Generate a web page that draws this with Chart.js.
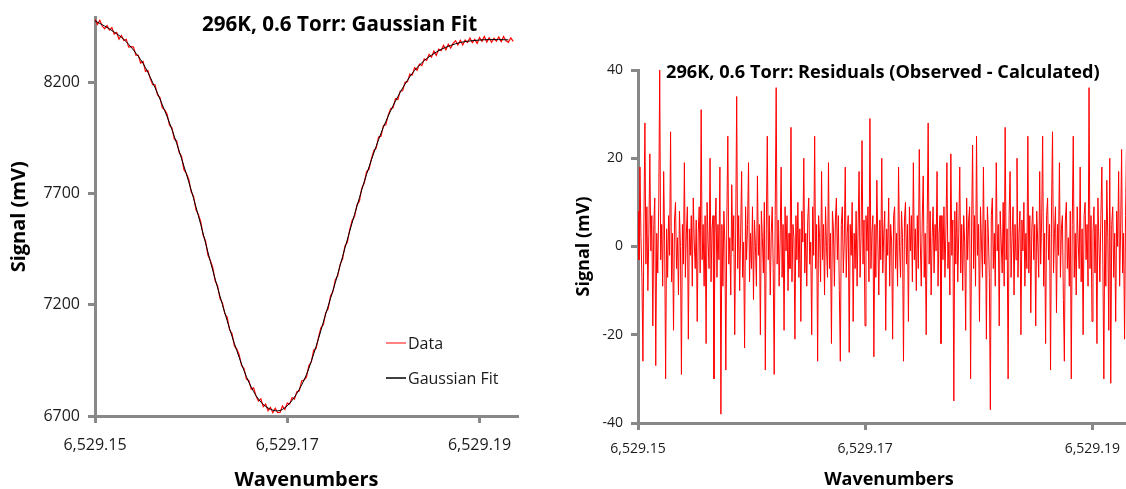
<!DOCTYPE html>
<html>
<head>
<meta charset="utf-8">
<title>296K, 0.6 Torr</title>
<script src="https://cdn.jsdelivr.net/npm/chart.js@4.4.0/dist/chart.umd.min.js"></script>
<style>
  html, body { margin: 0; padding: 0; background: #fff; overflow: hidden; }
  body { width: 1126px; height: 489px; position: relative; }
  #fit { position: absolute; left: 0; top: 0; }
  #resid { position: absolute; left: 560px; top: 0; }
</style>
</head>
<body>
<canvas id="fit" width="560" height="489"></canvas>
<canvas id="resid" width="600" height="489"></canvas>
<script>
// scan grid (wavenumbers), uniform steps from the start of the scan
var scanStart = 6529.15;
var dataStep = 0.00025;
var fitStep = 0.001;
var residStep = 0.0000869;

// observed signal (mV)
var signalData = [
	8485, 8461, 8480, 8454, 8442, 8456, 8436, 8447, 8418, 8425,
	8395, 8412, 8389, 8394, 8359, 8361, 8360, 8323, 8322, 8288,
	8295, 8250, 8254, 8218, 8190, 8190, 8144, 8133, 8087, 8077,
	8057, 8008, 7996, 7945, 7938, 7885, 7868, 7808, 7792, 7765,
	7709, 7689, 7627, 7606, 7574, 7513, 7487, 7423, 7400, 7368,
	7307, 7286, 7228, 7210, 7161, 7144, 7087, 7071, 7015, 7001,
	6975, 6926, 6914, 6866, 6860, 6821, 6827, 6790, 6767, 6777,
	6742, 6753, 6724, 6739, 6715, 6735, 6715, 6716, 6745, 6729,
	6758, 6754, 6783, 6776, 6809, 6813, 6858, 6862, 6876, 6927,
	6943, 6996, 7004, 7055, 7097, 7110, 7165, 7182, 7240, 7260,
	7313, 7331, 7382, 7406, 7465, 7481, 7539, 7581, 7597, 7650,
	7666, 7725, 7747, 7799, 7809, 7856, 7894, 7905, 7955, 7958,
	8007, 8010, 8053, 8082, 8086, 8127, 8124, 8162, 8163, 8201,
	8203, 8238, 8234, 8267, 8255, 8283, 8276, 8306, 8300, 8327,
	8314, 8341, 8322, 8350, 8343, 8367, 8347, 8372, 8355, 8376,
	8388, 8369, 8390, 8369, 8391, 8380, 8400, 8379, 8394, 8376,
	8402, 8385, 8407, 8382, 8401, 8381, 8399, 8386, 8405, 8384,
	8407, 8388, 8381, 8401, 8385
];

// gaussian fit (mV)
var gaussFit = [
	8477, 8454, 8427, 8394, 8346, 8286, 8200, 8100, 7989, 7858,
	7717, 7561, 7395, 7239, 7093, 6963, 6852, 6776, 6736, 6723,
	6746, 6802, 6887, 7013, 7159, 7300, 7456, 7607, 7753, 7883,
	7999, 8095, 8175, 8241, 8289, 8323, 8349, 8367, 8380, 8387,
	8391, 8393, 8393, 8392
];

// observed - calculated (mV)
var residuals = [
	8, -3, 18, 2, -7, -26, 6, 28, -4, 9, -10, 3, 21, -1, 7, -18, 5, 11, -27, 3,
	-6, 9, 40, -3, 5, -9, 17, 1, -30, 4, -7, 7, -2, 26, -8, 3, -19, 6, 10, -5,
	2, -11, 8, 0, -29, 5, -4, 19, -7, 3, 9, -21, 4, -2, 7, -9, 11, 1, -5, 6,
	-17, 3, 9, -6, 31, -3, 5, -9, 7, -22, 10, 1, -5, 20, -8, 4, 7, -30, 3, 11,
	-7, 5, -3, 18, -38, 5, -9, 8, 1, -28, 6, 25, -4, 2, -11, 14, -1, 7, -20, 4,
	34, -5, 7, -10, 3, 17, -7, 1, -23, 9, -3, 5, 19, -8, 3, -5, 9, -12, 6, 0,
	-9, 16, -2, 5, -20, 8, 2, -6, 10, -28, 4, 25, -3, 7, -11, 3, 9, -5, -29, 7,
	36, -4, 6, -9, 1, 18, -7, 5, -19, 9, -1, 7, -10, 3, -5, 27, -8, 5, 2, -21,
	7, -3, 10, -7, 4, -17, 8, 1, 20, -6, 3, -9, 6, 11, -4, 1, -20, 9, -2, 25,
	-5, 5, -26, 7, 2, -8, 17, -3, 5, -11, 9, 0, -7, 19, -5, 3, -22, 8, 4, -9,
	6, 11, -3, 7, -10, -26, 5, 9, -6, 1, 18, -7, 3, 7, -24, 5, -2, 10, -17, 3,
	-5, 8, -9, 4, 17, -7, 2, 24, -4, 6, -18, 7, -1, 9, -8, 29, -5, 3, 7, -25,
	5, -7, 15, 1, -11, 6, -3, 20, -6, 3, 8, -19, 4, -2, 11, -9, 5, 1, -21, 7,
	9, -5, 3, -9, 18, 0, -7, 8, 2, -26, 6, 10, -4, 5, -17, 9, -1, 7, -8, 19,
	-3, 4, -10, 7, -5, 22, 1, -9, 6, 16, -7, 3, -20, 5, 28, -4, 8, -11, 2, 9,
	-6, 5, -1, 17, -9, 3, 7, -22, 7, -3, 9, -7, 4, 19, -5, 1, -11, 21, -2, 6,
	-35, 8, -4, 10, -8, 3, 18, -6, 5, -10, 7, 1, -19, 11, -3, 6, 9, -30, 4, 23,
	-5, 7, -9, 25, -2, 5, -17, 9, 1, -7, 18, -4, 6, -21, 9, 3, -7, -37, 7, 11,
	-5, 3, -9, 19, -1, 5, -18, 8, 1, -6, 10, -9, 27, -3, 4, -30, 7, 17, -7, 2,
	9, -11, 5, -3, 20, -7, 3, 8, -20, 6, -1, 10, -9, 3, -5, 25, -6, 7, -15, 4,
	9, -3, 5, -18, 8, 1, -7, 17, -4, 6, 25, -9, 3, -22, 7, 11, -3, 5, -28, 9,
	26, -6, 3, 9, -15, 5, -2, 19, -7, 4, 7, -12, -26, 6, 10, -5, 2, -9, 8, -30,
	5, 25, -7, 3, -11, 9, 1, -5, 18, -8, 4, -20, 7, 10, -3, 5, -9, 36, -5, 7,
	-17, 3, 9, -6, 5, -22, 11, 1, -8, 7, 18, -4, -30, 6, -9, 15, 2, -19, 20, -31,
	5, 9, -7, 3, -17, 8, 0, 17, -9, 4, 22, -6, 3, -21, 7, 24, -34, 9, -5, 19
];

// tick labels
var waveTicks = [6529.15, 6529.17, 6529.19];
var fitTicks = [6700, 7200, 7700, 8200];
var residTicks = [-40, -20, 0, 20, 40];

function toPoints(values, step) {
	var pts = [];
	for (var i = 0; i < values.length; i++) {
		pts.push({x: scanStart + i * step, y: values[i]});
	}
	return pts;
}

function fixedTicks(list) {
	return function(scale) {
		scale.ticks = list.map(function(v) { return {value: v}; });
	};
}

function waveLabel(v) {
	return v.toLocaleString('en-US', {minimumFractionDigits: 2, maximumFractionDigits: 2});
}

function plainLabel(v) {
	return String(v);
}

var axisGrey = '#888888';
var gridOpts = {display: true, drawOnChartArea: false, drawTicks: true, tickLength: 7, tickColor: axisGrey, tickWidth: 3};
var borderOpts = {display: true, color: axisGrey, width: 3};

// titles and legend drawn on top of the plot
var panelText = {
	id: 'panelText',
	afterDraw: function(chart, args, o) {
		var ctx = chart.ctx;
		ctx.save();
		ctx.fillStyle = '#000';
		ctx.textAlign = 'left';
		ctx.textBaseline = 'alphabetic';
		ctx.font = 'bold ' + o.size + 'px "Open Sans"';
		ctx.fillText(o.title, o.x, o.y);
		if (o.legend) {
			var ds = chart.data.datasets;
			ctx.font = '16px "Open Sans"';
			ctx.textBaseline = 'middle';
			for (var i = 0; i < o.legend.length; i++) {
				var row = o.legend[i];
				ctx.strokeStyle = ds[i].legendColor;
				ctx.lineWidth = 1.5;
				ctx.beginPath();
				ctx.moveTo(row.x, row.y);
				ctx.lineTo(row.x + 20, row.y);
				ctx.stroke();
				ctx.fillStyle = '#1a1a1a';
				ctx.fillText(ds[i].label, row.x + 22, row.y + 1);
			}
		}
		ctx.restore();
	}
};

new Chart(document.getElementById('fit'), {
	type: 'line',
	data: {
		datasets: [
			{
				label: 'Data',
				data: toPoints(signalData, dataStep),
				borderColor: '#ff0000',
				legendColor: '#ff5a5a',
				borderWidth: 1.2,
				pointRadius: 0,
				tension: 0,
				order: 1
			},
			{
				label: 'Gaussian Fit',
				data: toPoints(gaussFit, fitStep),
				borderColor: '#000000',
				legendColor: '#000000',
				borderWidth: 1,
				pointRadius: 0,
				cubicInterpolationMode: 'monotone',
				order: 0
			}
		]
	},
	options: {
		responsive: false,
		animation: false,
		layout: {padding: {top: 17, right: 42, left: 0, bottom: 0}},
		plugins: {
			legend: {display: false},
			tooltip: {enabled: false},
			panelText: {
				title: '296K, 0.6 Torr: Gaussian Fit', size: 20.6, x: 202, y: 31,
				legend: [{x: 386, y: 343}, {x: 386, y: 378}]
			}
		},
		scales: {
			x: {
				type: 'linear',
				min: 6529.15,
				max: 6529.194,
				afterBuildTicks: fixedTicks(waveTicks),
				afterFit: function(s) { s.height = 73; },
				ticks: {font: {family: 'Open Sans', size: 16}, color: '#1a1a1a', padding: 13, maxRotation: 0, autoSkip: false, callback: waveLabel},
				grid: gridOpts,
				border: borderOpts,
				title: {display: true, text: 'Wavenumbers', color: '#000', padding: 0, font: {family: 'Open Sans', size: 20, weight: 'bold', lineHeight: 0.9}}
			},
			y: {
				min: 6700,
				max: 8492,
				afterBuildTicks: fixedTicks(fitTicks),
				afterFit: function(s) { s.width = 95; },
				ticks: {font: {family: 'Open Sans', size: 16}, color: '#1a1a1a', padding: 8, callback: plainLabel},
				grid: gridOpts,
				border: borderOpts,
				title: {display: true, text: 'Signal (mV)', color: '#000', padding: {top: 7, bottom: 0}, font: {family: 'Open Sans', size: 20, weight: 'bold'}}
			}
		}
	},
	plugins: [panelText]
});

new Chart(document.getElementById('resid'), {
	type: 'line',
	data: {
		datasets: [{
			label: 'Residuals',
			data: toPoints(residuals, residStep),
			borderColor: '#ff0000',
			borderWidth: 1,
			pointRadius: 0,
			tension: 0
		}]
	},
	options: {
		responsive: false,
		animation: false,
		layout: {padding: {top: 70, right: 20, left: 0, bottom: 0}},
		plugins: {
			legend: {display: false},
			tooltip: {enabled: false},
			panelText: {title: '296K, 0.6 Torr: Residuals (Observed - Calculated)', size: 18.2, x: 106, y: 78}
		},
		scales: {
			x: {
				type: 'linear',
				min: 6529.15,
				max: 6529.1942,
				afterBuildTicks: fixedTicks(waveTicks),
				afterFit: function(s) { s.height = 66; },
				ticks: {font: {family: 'Open Sans', size: 14}, color: '#1a1a1a', padding: 11, maxRotation: 0, autoSkip: false, callback: waveLabel},
				grid: gridOpts,
				border: borderOpts,
				title: {display: true, text: 'Wavenumbers', color: '#000', padding: 0, font: {family: 'Open Sans', size: 18, weight: 'bold', lineHeight: 1}}
			},
			y: {
				min: -40,
				max: 40,
				afterBuildTicks: fixedTicks(residTicks),
				afterFit: function(s) { s.width = 78; },
				ticks: {font: {family: 'Open Sans', size: 14}, color: '#1a1a1a', padding: 8, callback: plainLabel},
				grid: gridOpts,
				border: borderOpts,
				title: {display: true, text: 'Signal (mV)', color: '#000', padding: {top: 13, bottom: 0}, font: {family: 'Open Sans', size: 18, weight: 'bold'}}
			}
		}
	},
	plugins: [panelText]
});
</script>
</body>
</html>
